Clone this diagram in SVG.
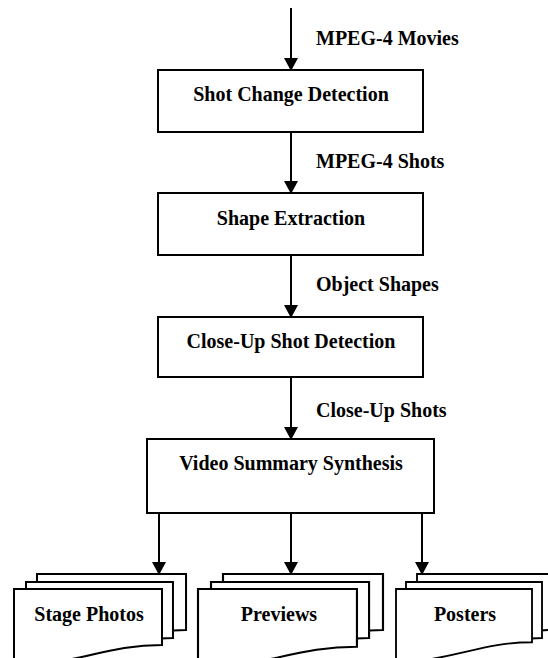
<svg xmlns="http://www.w3.org/2000/svg" width="548" height="658" viewBox="0 0 548 658">
  <style>
    .box { fill: #ffffff; stroke: #000000; stroke-width: 2; }
    .doc { fill: #ffffff; stroke: #000000; stroke-width: 2; stroke-linejoin: miter; }
    .flow { stroke: #000000; stroke-width: 2; fill: none; marker-end: url(#head); }
    .t { font-weight: bold; font-size: 20px; fill: #000000; }
    .mid { text-anchor: middle; }
  </style>
  <defs>
    <marker id="head" markerUnits="userSpaceOnUse" markerWidth="13" markerHeight="14" refX="4" refY="7" orient="auto">
      <path d="M0,0 L13,7 L0,14 Z" fill="#000000"/>
    </marker>
    <!-- stacked document outline: top-left at 0,0, width 148, wavy bottom -->
    <path id="sheet" d="M0,0 H148 V56 C96,56 67,73 0,79 Z"/>
  </defs>

  <rect width="548" height="658" fill="#ffffff"/>

  <g font-family="Liberation Serif, Times New Roman, Tinos, serif">
  <!-- connectors -->
  <g id="connectors">
    <line class="flow" x1="291" y1="8" x2="291" y2="62"/>
    <line class="flow" x1="291" y1="133" x2="291" y2="185"/>
    <line class="flow" x1="291" y1="256" x2="291" y2="309"/>
    <line class="flow" x1="291" y1="378" x2="291" y2="431"/>
    <line class="flow" x1="159" y1="514" x2="159" y2="566"/>
    <line class="flow" x1="291" y1="514" x2="291" y2="566"/>
    <line class="flow" x1="422" y1="514" x2="422" y2="566"/>
    <text class="t" x="316" y="45">MPEG-4 Movies</text>
    <text class="t" x="316" y="168">MPEG-4 Shots</text>
    <text class="t" x="316" y="291">Object Shapes</text>
    <text class="t" x="316" y="417">Close-Up Shots</text>
  </g>

  <g id="shot-change-detection">
    <rect class="box" x="158" y="70" width="265" height="62"/>
    <text class="t mid" x="291" y="101">Shot Change Detection</text>
  </g>

  <g id="shape-extraction">
    <rect class="box" x="158" y="193" width="265" height="62"/>
    <text class="t mid" x="291" y="225">Shape Extraction</text>
  </g>

  <g id="close-up-shot-detection">
    <rect class="box" x="158" y="317" width="265" height="60"/>
    <text class="t mid" x="291" y="348">Close-Up Shot Detection</text>
  </g>

  <g id="video-summary-synthesis">
    <rect class="box" x="147" y="439" width="287" height="74"/>
    <text class="t mid" x="291" y="470">Video Summary Synthesis</text>
  </g>

  <g id="stage-photos">
    <use href="#sheet" class="doc" transform="translate(37,574) scale(1.007,1)"/>
    <use href="#sheet" class="doc" transform="translate(26,582) scale(0.993,1)"/>
    <use href="#sheet" class="doc" transform="translate(14,589)"/>
    <text class="t mid" x="89" y="621">Stage Photos</text>
  </g>

  <g id="previews">
    <use href="#sheet" class="doc" transform="translate(223,574) scale(1.081,1)"/>
    <use href="#sheet" class="doc" transform="translate(211,582) scale(1.068,1)"/>
    <use href="#sheet" class="doc" transform="translate(198,589) scale(1.074,1.03)"/>
    <text class="t mid" x="279" y="621">Previews</text>
  </g>

  <g id="posters">
    <use href="#sheet" class="doc" transform="translate(417,574) scale(0.919,1)"/>
    <use href="#sheet" class="doc" transform="translate(406,582) scale(0.919,1)"/>
    <use href="#sheet" class="doc" transform="translate(396,589) scale(0.919,0.95)"/>
    <text class="t mid" x="465" y="621">Posters</text>
  </g>
  </g>
</svg>
